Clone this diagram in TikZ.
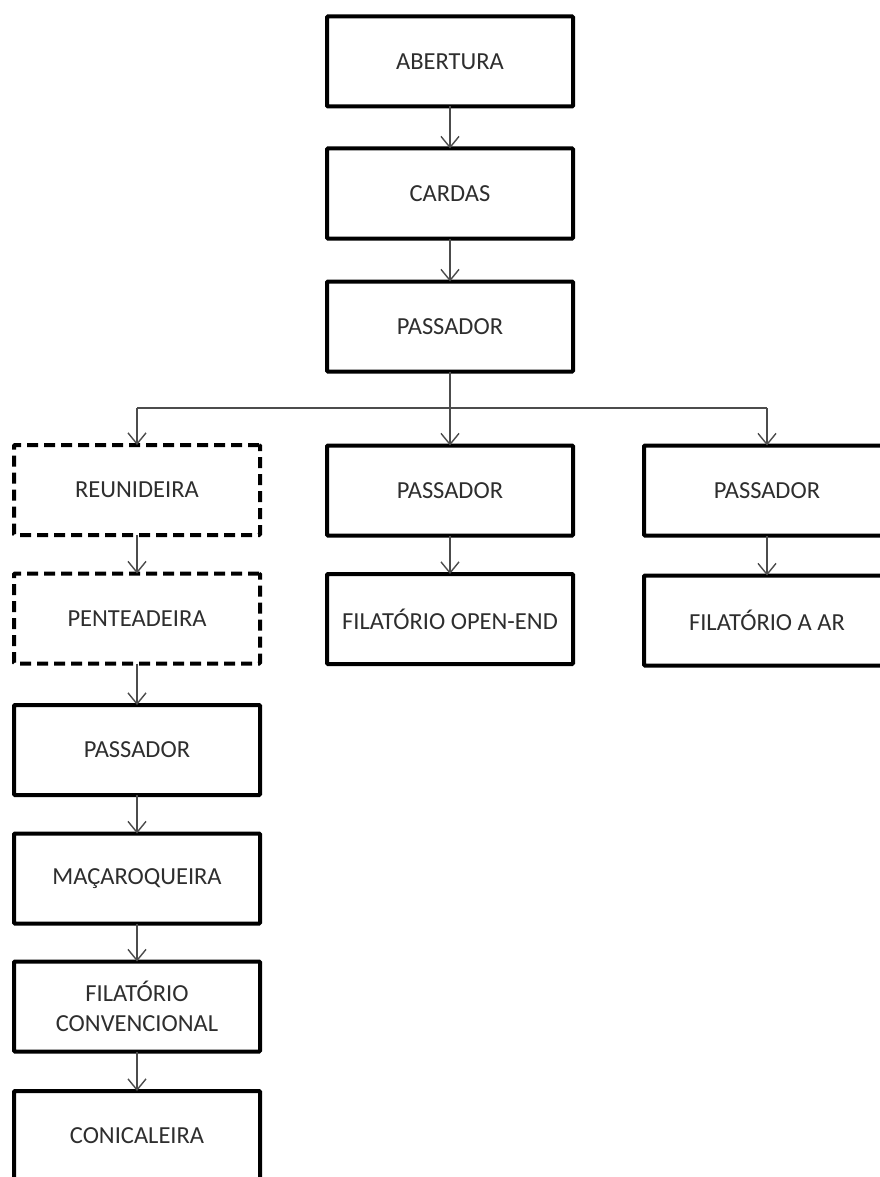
\documentclass[tikz,border=0pt]{standalone}
\usepackage{fontspec}
\setmainfont{Carlito}
\usetikzlibrary{arrows.meta}
\begin{document}
\begin{tikzpicture}[x=1pt,y=1pt,
  box/.style={draw=black, line width=4pt, fill=white, rounded corners=1pt,
    minimum width=246pt, minimum height=90pt, inner sep=2pt, outer sep=0pt,
    align=center, text=black!82,
    font=\fontsize{24.5}{30}\selectfont},
  dashbox/.style={box, dash pattern=on 11pt off 6pt},
  link/.style={draw=black!70, line width=1.4pt},
  conn/.style={link, -{Straight Barb[length=11pt,width=18pt,line width=1.4pt]}}
]
\useasboundingbox (0,0) rectangle (880,-1177);
\fill[white] (0,0) rectangle (880,-1177);

% centre column
\node[box] (ab) at (450,-61.5) {ABERTURA};
\node[box] (ca) at (450,-193.5) {CARDAS};
\node[box] (p1) at (450,-326.5) {PASSADOR};
\node[box] (p2) at (450,-490.5) {PASSADOR};
\node[box] (oe) at (450,-619) {FILATÓRIO OPEN-END};

% left column
\node[dashbox] (re) at (137,-490) {REUNIDEIRA};
\node[dashbox] (pe) at (137,-618.5) {PENTEADEIRA};
\node[box] (p3) at (137,-750) {PASSADOR};
\node[box] (ma) at (137,-878.5) {MAÇAROQUEIRA};
\node[box] (fc) at (137,-1006.5) {FILATÓRIO\\CONVENCIONAL};
\node[box] (co) at (137,-1136) {CONICALEIRA};

% right column
\node[box] (p4) at (767,-490.5) {PASSADOR};
\node[box] (ar) at (767,-620.5) {FILATÓRIO A AR};

% branching bus below the third stage
\coordinate (bus) at (450,-408);

\draw[conn] (ab.south) -- (ca.north);
\draw[conn] (ca.south) -- (p1.north);
\draw[conn] (p1.south) -- (p2.north);
\draw[link] (bus -| re.north) -- (bus -| p4.north);
\draw[conn] (bus -| re.north) -- (re.north);
\draw[conn] (bus -| p4.north) -- (p4.north);
\draw[conn] (p2.south) -- (oe.north);
\draw[conn] (p4.south) -- (ar.north);
\draw[conn] (re.south) -- (pe.north);
\draw[conn] (pe.south) -- (p3.north);
\draw[conn] (p3.south) -- (ma.north);
\draw[conn] (ma.south) -- (fc.north);
\draw[conn] (fc.south) -- (co.north);
\end{tikzpicture}
\end{document}
